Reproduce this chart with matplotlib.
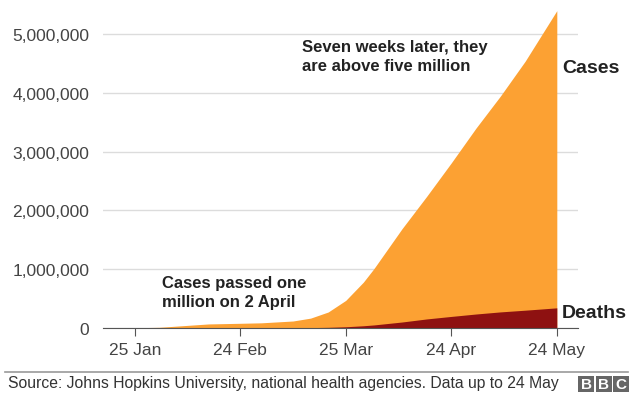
import matplotlib
matplotlib.use("Agg")
import matplotlib.pyplot as plt
import matplotlib.dates as mdates
from matplotlib.patches import Rectangle
from matplotlib.ticker import FuncFormatter
import numpy as np

plt.rcParams["font.family"] = ["Liberation Sans", "DejaVu Sans"]

# cumulative global counts
dates = ["2020-01-22", "2020-02-01", "2020-02-15", "2020-02-24", "2020-03-01",
         "2020-03-10", "2020-03-15", "2020-03-20", "2020-03-25", "2020-03-30",
         "2020-04-02", "2020-04-10", "2020-04-17", "2020-04-24", "2020-05-01",
         "2020-05-08", "2020-05-15", "2020-05-24"]
cases = [555, 12000, 69000, 80000, 88000, 119000, 168000, 272000, 470000, 780000,
         1010000, 1690000, 2240000, 2810000, 3400000, 3950000, 4540000, 5400000]
deaths = [17, 260, 1660, 2700, 3000, 4300, 6500, 11400, 21000, 38000,
          52000, 102000, 154000, 197000, 238000, 274000, 303000, 343000]
tick_dates = ["2020-01-25", "2020-02-24", "2020-03-25", "2020-04-24", "2020-05-24"]
tick_labels = ["25 Jan", "24 Feb", "25 Mar", "24 Apr", "24 May"]
y_ticks = [0, 1000000, 2000000, 3000000, 4000000, 5000000]

ORANGE = "#fca133"
DARKRED = "#8e1111"
TXT = "#222222"
GREY = "#444444"

x = mdates.datestr2num(dates)
fig = plt.figure(figsize=(6.4, 4.02), dpi=100)
ax = fig.add_axes([0.161, 0.1816, 0.742, 0.804])

ax.fill_between(x, 0, cases, color=ORANGE, lw=0, zorder=2)
ax.fill_between(x, 0, deaths, color=DARKRED, lw=0, zorder=3)

ax.set_xlim(mdates.datestr2num("2020-01-16"), mdates.datestr2num("2020-05-30"))
ax.set_ylim(0, 5500000)
ax.set_yticks(y_ticks)
ax.yaxis.set_major_formatter(FuncFormatter(lambda v, p: f"{int(v):,}"))
ax.set_xticks(mdates.datestr2num(tick_dates))
ax.set_xticklabels(tick_labels)
ax.grid(axis="y", color="#dcdcdc", lw=1, zorder=0)
for s in ["top", "right", "left"]:
    ax.spines[s].set_visible(False)
ax.spines["bottom"].set_color("#555555")
ax.spines["bottom"].set_zorder(4)
ax.tick_params(axis="y", length=0, pad=10, labelsize=12.5, labelcolor=GREY)
ax.tick_params(axis="x", length=6, color="#555555", pad=4, labelsize=12.5,
               labelcolor=GREY)

ax.text(0.42, 0.841, "Seven weeks later, they\nare above five million",
        transform=ax.transAxes, fontsize=12, fontweight="bold", color=TXT,
        va="center", ha="left", linespacing=1.38)
ax.text(0.125, 0.111, "Cases passed one\nmillion on 2 April",
        transform=ax.transAxes, fontsize=12, fontweight="bold", color=TXT,
        va="center", ha="left", linespacing=1.3)
ax.text(0.966, 0.807, "Cases", transform=ax.transAxes, fontsize=14,
        fontweight="bold", color=TXT, va="center", ha="left")
ax.text(0.966, 0.049, "Deaths", transform=ax.transAxes, fontsize=14,
        fontweight="bold", color=TXT, va="center", ha="left")

# footer
fig.add_artist(plt.Line2D([5 / 640, 628 / 640], [1 - 373 / 402] * 2,
                          color="#999999", lw=1.2))
fig.text(8 / 640, 1 - 384 / 402, "Source: Johns Hopkins University, national health "
         "agencies. Data up to 24 May", fontsize=11.3, color="#333333",
         va="center", ha="left")
for i, ch in enumerate("BBC"):
    x0 = (578 + i * 17.5) / 640
    fig.add_artist(Rectangle((x0, 1 - 393 / 402), 16 / 640, 16 / 402,
                             transform=fig.transFigure, color="#666666", lw=0))
    fig.text(x0 + 8 / 640, 1 - 385 / 402, ch, fontsize=11, fontweight="bold",
             color="white", ha="center", va="center")

fig.savefig("out.png", dpi=100)
